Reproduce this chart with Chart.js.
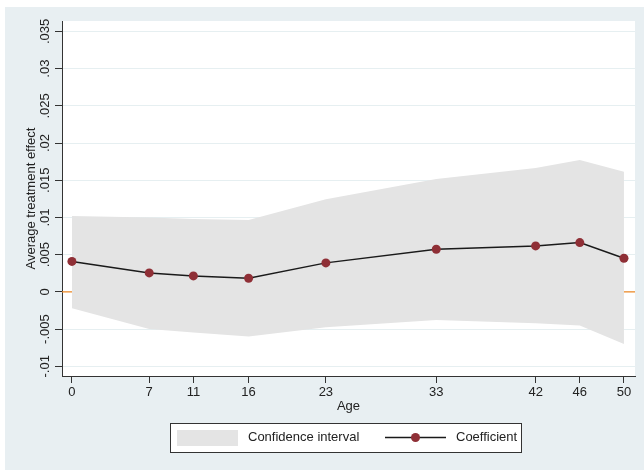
<!DOCTYPE html>
<html>
<head>
<meta charset="utf-8">
<script src="https://cdn.jsdelivr.net/npm/chart.js@4.4.0/dist/chart.umd.min.js"></script>
<style>
  html, body { margin: 0; padding: 0; background: #ffffff; }
  #wrap { width: 644px; height: 471px; }
</style>
</head>
<body>
<div id="wrap"><canvas id="ateChart" width="644" height="471"></canvas></div>
<script>
const ages = [0, 7, 11, 16, 23, 33, 42, 46, 50];
const coefficient = [0.0041, 0.00255, 0.00215, 0.00184, 0.0039, 0.00573, 0.00618, 0.00663, 0.00452];
const ciUpper = [0.0102, 0.0100, 0.0098, 0.00967, 0.01245, 0.01518, 0.01666, 0.01773, 0.01616];
const ciLower = [-0.00219, -0.00497, -0.00546, -0.0060, -0.00474, -0.00376, -0.0042, -0.00452, -0.00699];
const yTicks = [-0.01, -0.005, 0, 0.005, 0.01, 0.015, 0.02, 0.025, 0.03, 0.035];

const FONT = '"Liberation Sans", Arial, sans-serif';
const TEXT = '#222222';
const AXIS = '#333333';
const BG = '#e8eff2';
const CI_GREY = '#e4e4e4';
const MAROON = '#8f2f36';

Chart.defaults.font.family = FONT;
Chart.defaults.font.size = 13;
Chart.defaults.color = TEXT;

// stata style: ".035", "-.01", "0"
function stataLabel(v) {
    if (v === 0) return '0';
    const s = parseFloat(v.toFixed(3)).toString();
    return s.replace(/^(-?)0\./, '$1.');
}

function toPoints(values) {
    return ages.map((a, i) => ({ x: a, y: values[i] }));
}

const stataFrame = {
    id: 'stataFrame',
    beforeDraw(chart) {
        const { ctx, chartArea } = chart;
        ctx.save();
        ctx.fillStyle = '#ffffff';
        ctx.fillRect(0, 0, chart.width, chart.height);
        ctx.fillStyle = BG;
        ctx.fillRect(5, 7, chart.width - 5, chart.height - 8);
        ctx.fillStyle = '#ffffff';
        ctx.fillRect(chartArea.left, chartArea.top, chartArea.right - chartArea.left, chartArea.bottom - chartArea.top);
        ctx.restore();
    },
    beforeDatasetsDraw(chart) {
        // zero reference line, sits under the CI band
        const { ctx, chartArea } = chart;
        const y0 = chart.scales.y.getPixelForValue(0);
        ctx.save();
        ctx.strokeStyle = '#f08a24';
        ctx.lineWidth = 1.4;
        ctx.beginPath();
        ctx.moveTo(chartArea.left, y0);
        ctx.lineTo(chartArea.right, y0);
        ctx.stroke();
        ctx.restore();
    },
    afterDraw(chart) {
        const { ctx } = chart;
        const yScale = chart.scales.y;

        // rotated y tick labels
        ctx.save();
        ctx.font = '13px ' + FONT;
        ctx.fillStyle = TEXT;
        ctx.textAlign = 'center';
        ctx.textBaseline = 'middle';
        yTicks.forEach(v => {
            ctx.save();
            ctx.translate(45, yScale.getPixelForValue(v));
            ctx.rotate(-Math.PI / 2);
            ctx.fillText(stataLabel(v), 0, 0);
            ctx.restore();
        });
        ctx.restore();

        // legend box
        const lx = 170, ly = 423, lw = 351, lh = 29;
        const cy = ly + lh / 2;
        ctx.save();
        ctx.fillStyle = '#ffffff';
        ctx.fillRect(lx, ly, lw, lh);
        ctx.strokeStyle = AXIS;
        ctx.lineWidth = 1;
        ctx.strokeRect(lx + 0.5, ly + 0.5, lw, lh);

        ctx.fillStyle = CI_GREY;
        ctx.fillRect(177, ly + 7, 61, 16);

        ctx.strokeStyle = '#1a1a1a';
        ctx.lineWidth = 1.5;
        ctx.beginPath();
        ctx.moveTo(385, cy);
        ctx.lineTo(446, cy);
        ctx.stroke();
        ctx.fillStyle = MAROON;
        ctx.beginPath();
        ctx.arc(415.5, cy, 4.5, 0, Math.PI * 2);
        ctx.fill();

        ctx.font = '13px ' + FONT;
        ctx.fillStyle = TEXT;
        ctx.textAlign = 'left';
        ctx.textBaseline = 'middle';
        ctx.fillText('Confidence interval', 248, cy);
        ctx.fillText('Coefficient', 456, cy);
        ctx.restore();
    }
};

new Chart(document.getElementById('ateChart'), {
    type: 'line',
    data: {
        datasets: [
            {
                label: 'Coefficient',
                data: toPoints(coefficient),
                borderColor: '#1a1a1a',
                borderWidth: 1.5,
                pointRadius: 4.5,
                pointBackgroundColor: MAROON,
                pointBorderWidth: 0,
                tension: 0,
                fill: false
            },
            {
                label: 'CI upper',
                data: toPoints(ciUpper),
                borderWidth: 0,
                pointRadius: 0,
                fill: false
            },
            {
                label: 'Confidence interval',
                data: toPoints(ciLower),
                borderWidth: 0,
                pointRadius: 0,
                backgroundColor: CI_GREY,
                fill: '-1'
            }
        ]
    },
    options: {
        responsive: false,
        devicePixelRatio: 1,
        animation: false,
        layout: {
            padding: { left: 5, top: 21, right: 9, bottom: 55 }
        },
        plugins: {
            legend: { display: false },
            tooltip: { enabled: false }
        },
        scales: {
            x: {
                type: 'linear',
                min: -0.9,
                max: 51,
                afterBuildTicks: (scale) => {
                    scale.ticks = ages.map(v => ({ value: v }));
                },
                afterFit: (scale) => { scale.height = 40; },
                ticks: {
                    autoSkip: false,
                    maxRotation: 0,
                    padding: 2,
                    color: TEXT,
                    callback: (v) => v
                },
                grid: {
                    drawOnChartArea: false,
                    tickLength: 7,
                    tickColor: AXIS
                },
                border: { color: AXIS, width: 1 },
                title: {
                    display: true,
                    text: 'Age',
                    color: TEXT,
                    padding: { top: 0, bottom: 2 }
                }
            },
            y: {
                min: -0.0113,
                max: 0.0364,
                afterBuildTicks: (scale) => {
                    scale.ticks = yTicks.map(v => ({ value: v }));
                },
                afterFit: (scale) => { scale.width = 57; },
                ticks: { display: false },
                grid: {
                    color: '#e6eff1',
                    lineWidth: 1,
                    tickLength: 7,
                    tickColor: AXIS
                },
                border: { color: AXIS, width: 1 },
                title: {
                    display: true,
                    text: 'Average treatment effect',
                    color: TEXT,
                    padding: { top: 19, bottom: 0 }
                }
            }
        }
    },
    plugins: [stataFrame]
});
</script>
</body>
</html>
